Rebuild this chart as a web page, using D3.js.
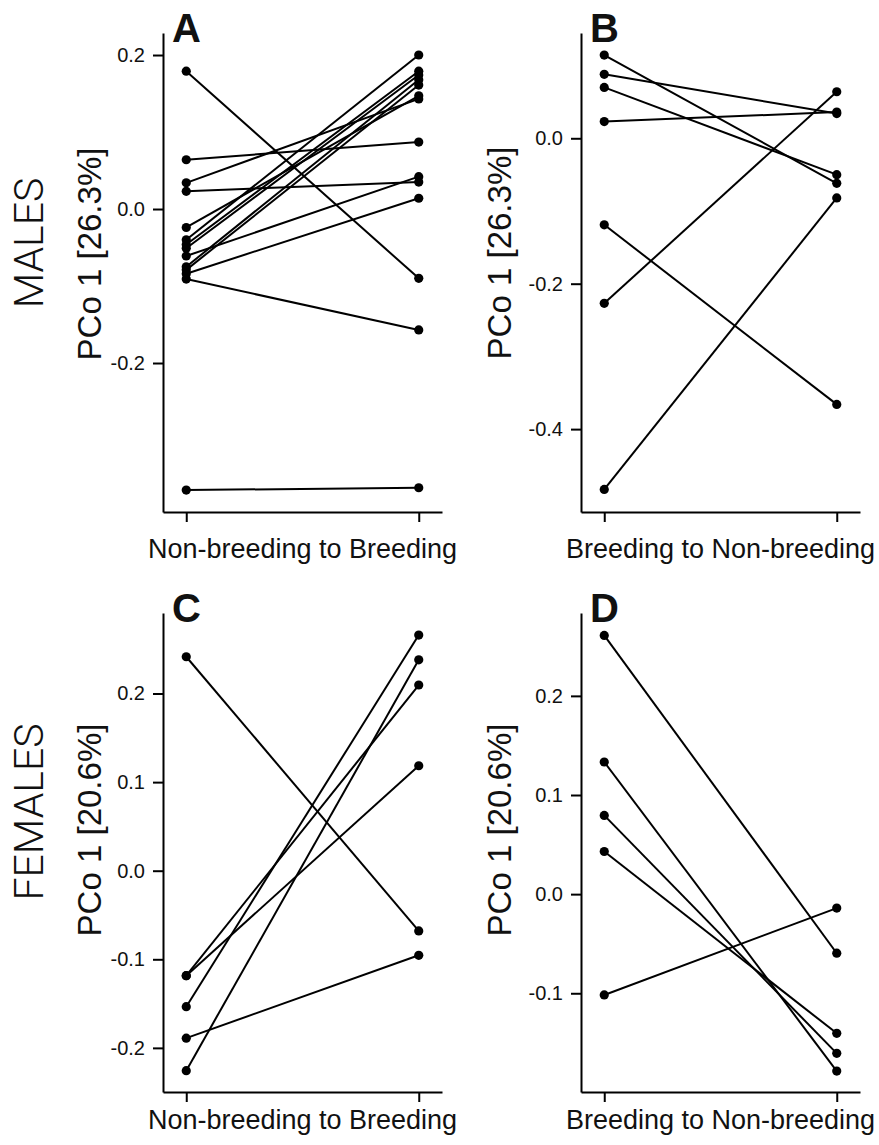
<!DOCTYPE html>
<html>
<head>
<meta charset="utf-8">
<script src="https://cdn.jsdelivr.net/npm/d3@7"></script>
<style>
  body { margin: 0; background: #fff; }
  text { font-family: "Liberation Sans", Arial, Helvetica, sans-serif; fill: #111; }
</style>
</head>
<body>
<div id="container"></div>
<script>
// ******* Data (PCo 1 scores) *******
// males, non-breeding -> breeding (panel A)
var maleNB_start = [0.179, 0.064, 0.034, 0.023, -0.024, -0.040, -0.046, -0.051, -0.061, -0.075, -0.079, -0.084, -0.091, -0.365]
var maleNB_end   = [-0.090, 0.087, 0.143, 0.035, 0.147, 0.200, 0.179, 0.174, 0.042, 0.168, 0.161, 0.014, -0.157, -0.362]
// males, breeding -> non-breeding (panel B)
var maleB_start = [0.1145, 0.088, 0.070, 0.023, -0.119, -0.227, -0.483]
var maleB_end   = [-0.062, 0.034, -0.050, 0.036, -0.366, 0.064, -0.082]
// females, non-breeding -> breeding (panel C)
var femaleNB_start = [0.2415, -0.1185, -0.1185, -0.1535, -0.189, -0.2257]
var femaleNB_end   = [-0.068, 0.2096, 0.1185, 0.266, -0.0955, 0.238]
// females, breeding -> non-breeding (panel D)
var femaleB_start = [0.261, 0.1333, 0.0794, 0.043, -0.1017]
var femaleB_end   = [-0.0596, -0.1785, -0.1606, -0.1404, -0.0141]

var ticksA = [-0.2, 0.0, 0.2]
var ticksB = [-0.4, -0.2, 0.0]
var ticksC = [-0.2, -0.1, 0.0, 0.1, 0.2]
var ticksD = [-0.1, 0.0, 0.1, 0.2]

var rowLabels = ["MALES", "FEMALES"]
var yTitles = ["PCo 1 [26.3%]", "PCo 1 [20.6%]"]
var xTitles = ["Non-breeding to Breeding", "Breeding to Non-breeding"]

var width = 879, height = 1145;
var svg;

// ******* Panel layout *******
var panels = [
  {letter: "A", start: maleNB_start, end: maleNB_end, ticks: ticksA, yDomain: [-0.3935, 0.2286],
   left: 163, right: 442, top: 33, bottom: 512, xTitle: xTitles[0], yTitle: yTitles[0], titleGap: 46, yTitleX: 101, yTitleY: 254},
  {letter: "B", start: maleB_start, end: maleB_end, ticks: ticksB, yDomain: [-0.514, 0.1448],
   left: 581, right: 860, top: 33, bottom: 512, xTitle: xTitles[1], yTitle: yTitles[0], titleGap: 46, yTitleX: 511, yTitleY: 253},
  {letter: "C", start: femaleNB_start, end: femaleNB_end, ticks: ticksC, yDomain: [-0.2498, 0.2909],
   left: 163, right: 442, top: 613, bottom: 1092, xTitle: xTitles[0], yTitle: yTitles[1], titleGap: 37, yTitleX: 101, yTitleY: 830},
  {letter: "D", start: femaleB_start, end: femaleB_end, ticks: ticksD, yDomain: [-0.1996, 0.2836],
   left: 581, right: 860, top: 613, bottom: 1092, xTitle: xTitles[1], yTitle: yTitles[1], titleGap: 37, yTitleX: 511, yTitleY: 830}
]

function main() {
  svg = d3.select("#container").append("svg")
  .attr("width", width)
  .attr("height", height)

  panels.forEach(function(p) { drawPanel(p) })

  // row labels on the far left
  svg.selectAll(".row-label")
  .data(rowLabels)
  .enter().append("text")
  .attr("class", "row-label")
  .attr("text-anchor", "middle")
  .attr("transform", function(d, i) { return "translate(43," + (i == 0 ? 243 : 812) + ")rotate(-90)" })
  .style("font-family", "Roboto, 'Liberation Sans', sans-serif")
  .style("font-weight", 300)
  .style("font-size", "41px")
  .text(function(d) { return d })
}

function drawPanel(p) {
  var x = d3.scaleLinear().domain([-0.1, 1.1]).range([p.left, p.right])
  var y = d3.scaleLinear().domain(p.yDomain).range([p.bottom, p.top])

  var g = svg.append("g").attr("class", "panel-" + p.letter)

  var yAxis = d3.axisLeft(y)
  .tickValues(p.ticks)
  .tickSize(10)
  .tickSizeOuter(0)
  .tickPadding(8)
  .tickFormat(function(d) { return d.toFixed(1) })

  var xAxis = d3.axisBottom(x)
  .tickValues([0, 1])
  .tickSize(10)
  .tickSizeOuter(0)
  .tickFormat("")

  g.append("g")
  .attr("class", "y-axis")
  .attr("transform", "translate(" + p.left + ",0)")
  .call(yAxis)

  g.append("g")
  .attr("class", "x-axis")
  .attr("transform", "translate(0," + p.bottom + ")")
  .call(xAxis)

  g.selectAll(".domain, .tick line").attr("stroke", "#000").attr("stroke-width", 2)
  g.selectAll(".tick text").style("font-size", "20px").style("font-family", "'Liberation Sans', Arial, sans-serif").attr("fill", "#222")

  var pairs = p.start.map(function(v, i) { return {a: v, b: p.end[i]} })

  g.selectAll(".pair-line")
  .data(pairs)
  .enter().append("line")
  .attr("class", "pair-line")
  .attr("x1", x(0)).attr("x2", x(1))
  .attr("y1", function(d) { return y(d.a) })
  .attr("y2", function(d) { return y(d.b) })
  .attr("stroke", "#000")
  .attr("stroke-width", 2)

  var pts = []
  pairs.forEach(function(d) { pts.push([0, d.a]); pts.push([1, d.b]) })

  g.selectAll(".pt")
  .data(pts)
  .enter().append("circle")
  .attr("class", "pt")
  .attr("cx", function(d) { return x(d[0]) })
  .attr("cy", function(d) { return y(d[1]) })
  .attr("r", 4.6)
  .attr("fill", "#000")

  // panel letter
  g.append("text")
  .attr("x", p.left + 9)
  .attr("y", p.top + 9)
  .style("font-size", "40px")
  .style("font-weight", "bold")
  .text(p.letter)

  // axis titles
  g.append("text")
  .attr("text-anchor", "middle")
  .attr("x", (x(0) + x(1)) / 2)
  .attr("y", p.bottom + p.titleGap)
  .style("font-size", "27px")
  .text(p.xTitle)

  g.append("text")
  .attr("text-anchor", "middle")
  .attr("transform", "translate(" + p.yTitleX + "," + p.yTitleY + ")rotate(-90)")
  .style("font-size", "33px")
  .text(p.yTitle)
}

main();
</script>
</body>
</html>
